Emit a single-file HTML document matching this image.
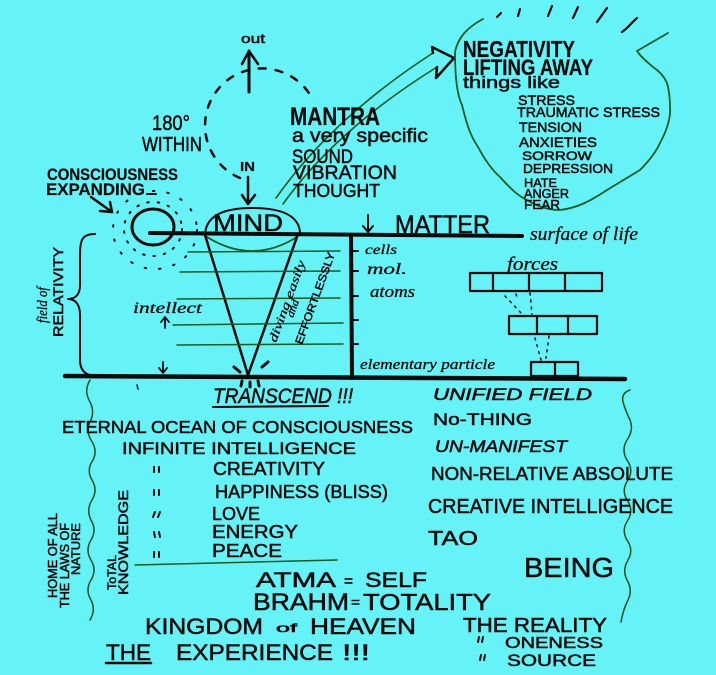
<!DOCTYPE html>
<html><head><meta charset="utf-8"><style>
html,body{margin:0;padding:0;background:#66f3f7;}
svg{display:block}
text{font-family:"Liberation Sans",sans-serif;fill:#0a0a0a;stroke:#0a0a0a;stroke-width:0.5}
.c{font-family:"Liberation Serif",serif;font-style:italic;stroke-width:0.3}
.b{font-weight:bold;stroke-width:0.2}
</style></head><body>
<svg width="716" height="675" viewBox="0 0 716 675" xmlns="http://www.w3.org/2000/svg">
<rect width="716" height="675" fill="#66f3f7"/>
<g fill="none" stroke="#0a0a0a" stroke-linecap="round" stroke-linejoin="round">
 <!-- out arrow -->
 <path d="M249 92 L249 51" stroke-width="3"/>
 <path d="M242 64 L249 51 L258 64" stroke-width="2.5"/>
 <!-- dashed circle -->
 <path d="M240 178 A57 57 0 1 1 312 98" stroke-width="2.5" stroke-dasharray="7 10"/>
 <!-- IN arrow -->
 <path d="M248 177 L248 204" stroke-width="2.5"/>
 <path d="M242 195 L248 204 L255 195" stroke-width="2.5"/>
 <!-- consciousness arrow -->
 <path d="M91 197 L112 212" stroke-width="2.5"/>
 <path d="M100 211 L112 212 L110 202" stroke-width="2.5"/>
 <path d="M147 194 L156 194" stroke-width="2"/>
 <!-- small circle and rings -->
 <ellipse cx="153" cy="227" rx="21" ry="18" stroke-width="3"/>
 <ellipse cx="153" cy="229" rx="29" ry="27" stroke-width="2" stroke-dasharray="1.5 9"/>
 <ellipse cx="155" cy="230" rx="42" ry="39" stroke-width="2" stroke-dasharray="1.5 13"/>
 <!-- surface line -->
 <path d="M150 233 L522 236" stroke-width="4"/>
 <!-- MIND ellipse -->
 <path d="M205 236 C205 215 225 208 252 208 C280 208 300 215 300 234" stroke-width="2"/>
 <path d="M207 237 Q252 265 297 237" stroke="#1f5a1f" stroke-width="1.8"/>
 <!-- cone -->
 <path d="M205 235 L248 375 L298 234" stroke-width="2.5"/>
 <!-- green horizontal lines -->
 <g stroke="#1f5a1f" stroke-width="1.5">
  <path d="M188 252 L340 251"/>
  <path d="M180 272 L340 271"/>
  <path d="M177 299 L340 298"/>
  <path d="M173 325 L343 323"/>
  <path d="M177 345 L343 344"/>
 </g>
 <!-- vertical matter line -->
 <path d="M351 236 L352 378" stroke-width="4"/>
 <g stroke-width="2">
  <path d="M353 251 L358 251"/><path d="M353 271 L358 271"/><path d="M353 296 L358 296"/><path d="M353 320 L358 320"/><path d="M353 344 L358 344"/>
 </g>
 <!-- MATTER arrow -->
 <path d="M368 215 L368 232" stroke-width="2"/>
 <path d="M363 226 L368 232 L373 226" stroke-width="2"/>
 <!-- bottom line -->
 <path d="M65 376 L625 379" stroke-width="4.5"/>
 <!-- brace -->
 <path d="M95 234 C82 234 80 240 80 255 L80 285 C80 295 75 299 68 299 C75 299 80 304 80 315 L80 360 C80 370 85 376 97 376" stroke-width="2"/>
 <!-- intellect arrows -->
 <path d="M165 328 L165 318" stroke-width="1.8"/><path d="M161 322 L165 317 L169 322" stroke-width="1.8"/>
 <path d="M163 362 L163 372" stroke-width="1.8"/><path d="M159 368 L163 373 L167 368" stroke-width="1.8"/>
 <path d="M137 385 L138 389" stroke-width="1.5"/>
 <!-- sparks -->
 <g stroke-width="3">
  <path d="M234 367 L240 372"/><path d="M262 367 L268 362"/>
  <path d="M242 381 L241 386"/><path d="M250 382 L250 387"/><path d="M258 381 L259 386"/>
 </g>
 <!-- boxes -->
 <g stroke-width="2.2">
  <rect x="470" y="273" width="132" height="18"/>
  <path d="M493 273 L493 291 M529 273 L529 291 M565 273 L565 291"/>
  <rect x="509" y="316" width="88" height="18"/>
  <path d="M537 316 L537 334 M568 316 L568 334"/>
  <rect x="531" y="362" width="47" height="14"/>
  <path d="M555 362 L555 376"/>
 </g>
 <g stroke-width="1.5" stroke-dasharray="2 5">
  <path d="M505 296 L522 314"/><path d="M516 294 L518 300"/><path d="M530 293 L532 314"/>
  <path d="M535 338 L541 360"/><path d="M549 336 L546 358"/>
 </g>
 <!-- big double arrow -->
 <path d="M276 198 C310 150 360 100 433 53" stroke="#1f5a1f" stroke-width="1.6"/>
 <path d="M283 204 C318 155 368 110 437 67" stroke="#1f5a1f" stroke-width="1.6"/>
 <path d="M433 53 L432 47 L454 58 L436 78 L437 67" stroke-width="2.5"/>
 <!-- blob -->
 <path d="M483 19 C468 27 458 37 455 52 C455 75 457 95 462 105 C467 125 470 135 478 147 C485 160 492 170 500 177 C510 188 518 196 527 200 C538 207 548 210 560 210 C578 208 592 200 607 190 C620 182 630 176 640 170 C650 160 656 152 660 143 C667 130 671 118 670 107 C670 98 669 90 667 83 C664 76 659 71 653 67 C647 62 641 57 637 51 L668 33" stroke="#1f5a1f" stroke-width="1.8"/>
 <g stroke-width="2.2">
  <path d="M497 17 L501 13"/><path d="M518 16 L520 9"/><path d="M548 16 L552 6"/><path d="M573 18 L578 7"/><path d="M597 22 L607 8"/><path d="M622 32 C628 28 632 22 637 18"/>
 </g>
 <!-- wavy lines -->
 <path d="M90 380 Q84 390 89 400 Q95 410 91 420 Q85 430 91 440 Q98 450 93 460 Q86 470 92 480 Q98 490 92 500 Q86 510 91 520 Q97 530 91 540 Q85 550 91 560 Q97 570 91 580 Q85 590 91 600 Q96 610 90 620" stroke="#1f4f1f" stroke-width="1.5"/>
 <path d="M630 390 Q621 393 623 402 Q626 412 630 420 Q634 430 627 440 Q621 450 627 460 Q634 470 628 480 Q621 490 627 500 Q634 510 628 520 Q621 530 627 540 Q634 550 628 560 Q622 570 627 580 Q633 590 628 600 Q623 610 621 622" stroke="#1f4f1f" stroke-width="1.5"/>
 <!-- peace line -->
 <path d="M135 565 L337 560" stroke="#1f5a1f" stroke-width="1.5"/>
 <!-- underlines -->
 <path d="M213 407 L328 406" stroke-width="2"/>
 <path d="M106 663 L151 663" stroke-width="2.5"/>
 <!-- ditto marks -->
 <g stroke-width="2">
  <path d="M154 467 L154 472 M159 467 L159 472"/>
  <path d="M154 490 L154 495 M159 490 L159 495"/>
  <path d="M155 512 L153 517 M160 512 L158 517"/>
  <path d="M154 532 L155 537 M159 532 L160 537"/>
  <path d="M154 552 L154 557 M159 552 L159 557"/>
  <path d="M479 637 L478 642 M483 637 L482 642"/>
  <path d="M481 655 L480 660 M485 655 L484 660"/>
 </g>
</g>

<!-- texts -->
<text x="241" y="43" font-size="13" textLength="24" lengthAdjust="spacingAndGlyphs">out</text>
<text x="152" y="130" font-size="21" textLength="38" lengthAdjust="spacingAndGlyphs">180°</text>
<text x="142" y="151" font-size="20" textLength="60" lengthAdjust="spacingAndGlyphs">WITHIN</text>
<text x="240" y="171" font-size="13" class="b" textLength="15" lengthAdjust="spacingAndGlyphs">IN</text>
<text x="290" y="125" font-size="25" class="b" textLength="90" lengthAdjust="spacingAndGlyphs">MANTRA</text>
<text x="292" y="142" font-size="19" textLength="136" lengthAdjust="spacingAndGlyphs">a very specific</text>
<text x="292" y="163" font-size="19" textLength="61" lengthAdjust="spacingAndGlyphs">SOUND</text>
<text x="293" y="179" font-size="19" textLength="104" lengthAdjust="spacingAndGlyphs">VIBRATION</text>
<text x="293" y="197" font-size="18" textLength="87" lengthAdjust="spacingAndGlyphs">THOUGHT</text>
<text x="47" y="180" font-size="17" class="b" textLength="131" lengthAdjust="spacingAndGlyphs">CONSCIOUSNESS</text>
<text x="46" y="195" font-size="17" class="b" textLength="99" lengthAdjust="spacingAndGlyphs">EXPANDING</text>
<text x="213" y="231" font-size="24" textLength="70" lengthAdjust="spacingAndGlyphs">MIND</text>
<text x="395" y="233" font-size="25" textLength="95" lengthAdjust="spacingAndGlyphs">MATTER</text>
<text x="530" y="240" font-size="19" class="c" textLength="108" lengthAdjust="spacingAndGlyphs">surface of life</text>
<text x="365" y="254" font-size="14" class="c" textLength="32" lengthAdjust="spacingAndGlyphs">cells</text>
<text x="367" y="274" font-size="16" class="c" textLength="40" lengthAdjust="spacingAndGlyphs">mol.</text>
<text x="370" y="297" font-size="17" class="c" textLength="45" lengthAdjust="spacingAndGlyphs">atoms</text>
<text x="507" y="270" font-size="19" class="c" textLength="51" lengthAdjust="spacingAndGlyphs">forces</text>
<text x="360" y="369" font-size="15" class="c" textLength="135" lengthAdjust="spacingAndGlyphs">elementary particle</text>
<text x="133" y="313" font-size="16" class="c" textLength="69" lengthAdjust="spacingAndGlyphs">intellect</text>

<text transform="translate(63,337) rotate(-90)" font-size="14" textLength="90" lengthAdjust="spacingAndGlyphs">RELATIVITY</text>
<text transform="translate(47,323) rotate(-90)" font-size="15" class="c" textLength="36" lengthAdjust="spacingAndGlyphs">field of</text>
<text transform="translate(276,343) rotate(-70)" font-size="12" class="c" textLength="86" lengthAdjust="spacingAndGlyphs">diving easily</text>
<text transform="translate(293,318) rotate(-70)" font-size="11" class="c" textLength="18" lengthAdjust="spacingAndGlyphs">and</text>
<text transform="translate(302,345) rotate(-70)" font-size="11" textLength="97" lengthAdjust="spacingAndGlyphs">EFFORTLESSLY</text>

<text x="463" y="57" font-size="23" class="b" textLength="112" lengthAdjust="spacingAndGlyphs">NEGATIVITY</text>
<text x="463" y="75" font-size="22" class="b" textLength="130" lengthAdjust="spacingAndGlyphs">LIFTING AWAY</text>
<text x="463" y="88" font-size="17" textLength="97" lengthAdjust="spacingAndGlyphs">things like</text>
<text x="518" y="105" font-size="14" textLength="57" lengthAdjust="spacingAndGlyphs">STRESS</text>
<text x="517" y="117" font-size="14" textLength="143" lengthAdjust="spacingAndGlyphs">TRAUMATIC STRESS</text>
<text x="519" y="132" font-size="14" textLength="63" lengthAdjust="spacingAndGlyphs">TENSION</text>
<text x="519" y="147" font-size="14" textLength="78" lengthAdjust="spacingAndGlyphs">ANXIETIES</text>
<text x="522" y="160" font-size="12" textLength="70" lengthAdjust="spacingAndGlyphs">SORROW</text>
<text x="523" y="173" font-size="13" textLength="90" lengthAdjust="spacingAndGlyphs">DEPRESSION</text>
<text x="524" y="187" font-size="12" textLength="33" lengthAdjust="spacingAndGlyphs">HATE</text>
<text x="524" y="198" font-size="13" textLength="45" lengthAdjust="spacingAndGlyphs">ANGER</text>
<text x="524" y="209" font-size="13" textLength="36" lengthAdjust="spacingAndGlyphs">FEAR</text>

<text x="213" y="403" font-size="21" textLength="140" lengthAdjust="spacingAndGlyphs" font-style="italic">TRANSCEND !!!</text>
<text x="62" y="433" font-size="17.5" textLength="351" lengthAdjust="spacingAndGlyphs">ETERNAL OCEAN OF CONSCIOUSNESS</text>
<text x="122" y="454" font-size="17" textLength="234" lengthAdjust="spacingAndGlyphs">INFINITE INTELLIGENCE</text>
<text x="213" y="475" font-size="18" textLength="112" lengthAdjust="spacingAndGlyphs">CREATIVITY</text>
<text x="215" y="498" font-size="18.5" textLength="173" lengthAdjust="spacingAndGlyphs">HAPPINESS (BLISS)</text>
<text x="212" y="520" font-size="18" textLength="48" lengthAdjust="spacingAndGlyphs">LOVE</text>
<text x="212" y="538" font-size="18" textLength="86" lengthAdjust="spacingAndGlyphs">ENERGY</text>
<text x="212" y="557" font-size="18" textLength="70" lengthAdjust="spacingAndGlyphs">PEACE</text>

<text transform="translate(57,598) rotate(-90)" font-size="12.5" textLength="85" lengthAdjust="spacingAndGlyphs">HOME OF ALL</text>
<text transform="translate(69,608) rotate(-90)" font-size="12.5" textLength="85" lengthAdjust="spacingAndGlyphs">THE LAWS OF</text>
<text transform="translate(80,575) rotate(-90)" font-size="12" textLength="52" lengthAdjust="spacingAndGlyphs">NATURE</text>
<text transform="translate(116,590) rotate(-90)" font-size="11.5" textLength="35" lengthAdjust="spacingAndGlyphs">ToTAL</text>
<text transform="translate(128,595) rotate(-90)" font-size="14" textLength="105" lengthAdjust="spacingAndGlyphs">KNOWLEDGE</text>

<text x="433" y="400" font-size="16.5" font-style="italic" textLength="159" lengthAdjust="spacingAndGlyphs">UNIFIED FIELD</text>
<text x="433" y="425" font-size="17" textLength="99" lengthAdjust="spacingAndGlyphs">No-THING</text>
<text x="435" y="452" font-size="16.5" font-style="italic" textLength="132" lengthAdjust="spacingAndGlyphs">UN-MANIFEST</text>
<text x="431" y="480" font-size="18.5" textLength="242" lengthAdjust="spacingAndGlyphs">NON-RELATIVE ABSOLUTE</text>
<text x="428" y="513" font-size="20" textLength="245" lengthAdjust="spacingAndGlyphs">CREATIVE INTELLIGENCE</text>
<text x="428" y="545" font-size="20" textLength="50" lengthAdjust="spacingAndGlyphs">TAO</text>
<text x="524" y="577" font-size="28" textLength="90" lengthAdjust="spacingAndGlyphs">BEING</text>

<text x="256" y="587" font-size="21" textLength="80" lengthAdjust="spacingAndGlyphs">ATMA</text>
<text x="344" y="586" font-size="16" textLength="9" lengthAdjust="spacingAndGlyphs">=</text>
<text x="365" y="587" font-size="21" textLength="62" lengthAdjust="spacingAndGlyphs">SELF</text>
<text x="253" y="610" font-size="24" textLength="96" lengthAdjust="spacingAndGlyphs">BRAHM</text>
<text x="351" y="607" font-size="14" textLength="9" lengthAdjust="spacingAndGlyphs">=</text>
<text x="363" y="610" font-size="23" textLength="128" lengthAdjust="spacingAndGlyphs">TOTALITY</text>
<text x="145" y="634" font-size="22" textLength="118" lengthAdjust="spacingAndGlyphs">KINGDOM</text>
<text x="276" y="632" font-size="12" textLength="21" lengthAdjust="spacingAndGlyphs">of</text>
<text x="310" y="634" font-size="22" textLength="106" lengthAdjust="spacingAndGlyphs">HEAVEN</text>
<text x="106" y="660" font-size="22" textLength="45" lengthAdjust="spacingAndGlyphs">THE</text>
<text x="176" y="660" font-size="22" textLength="157" lengthAdjust="spacingAndGlyphs">EXPERIENCE</text>
<text x="342" y="660" font-size="22" textLength="28" lengthAdjust="spacingAndGlyphs">!!!</text>
<text x="463" y="632" font-size="20" textLength="144" lengthAdjust="spacingAndGlyphs">THE REALITY</text>
<text x="505" y="648" font-size="16" textLength="98" lengthAdjust="spacingAndGlyphs">ONENESS</text>
<text x="507" y="666" font-size="17" textLength="89" lengthAdjust="spacingAndGlyphs">SOURCE</text>
</svg>
</body></html>
